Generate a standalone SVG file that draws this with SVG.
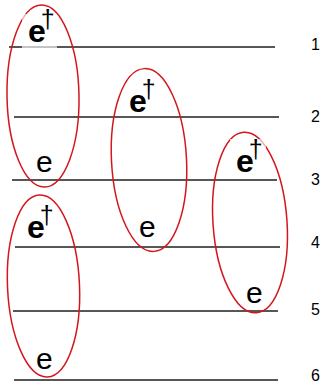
<svg xmlns="http://www.w3.org/2000/svg" width="320" height="383" viewBox="0 0 320 383">
<style>
.lvl{stroke:#575757;stroke-width:2;fill:none}
.loop{stroke:#d4161c;stroke-width:1.5;fill:none}
.eb{font-family:"Liberation Sans",Arial,sans-serif;font-weight:bold;font-size:32px;fill:#000}
.er{font-family:"Liberation Sans",Arial,sans-serif;font-size:30px;fill:#000}
.dg{font-family:"Liberation Sans",Arial,sans-serif;font-weight:normal;font-size:25px}
.num{font-family:"Liberation Sans",Arial,sans-serif;font-size:16px;fill:#000}
.veil{fill:#fff;fill-opacity:0.65}
</style>
<rect width="320" height="383" fill="#fff"/>
<g id="connectors">
<line class="lvl" x1="9" y1="47" x2="275" y2="47"/>
<line class="lvl" x1="14" y1="117" x2="279" y2="117"/>
<line class="lvl" x1="12" y1="180" x2="277" y2="180"/>
<line class="lvl" x1="15" y1="247" x2="280" y2="247"/>
<line class="lvl" x1="13" y1="311" x2="278" y2="311"/>
<line class="lvl" x1="14" y1="380" x2="278" y2="380"/>
</g>
<g id="loop1"><ellipse class="loop" cx="43" cy="96" rx="36" ry="91" transform="rotate(-1 43 96)"/></g>
<g id="loop2"><ellipse class="loop" cx="149" cy="160" rx="37.5" ry="91.5" transform="rotate(-3 149 160)"/></g>
<g id="loop3"><ellipse class="loop" cx="250" cy="222.5" rx="37" ry="90.5" transform="rotate(-4 250 222.5)"/></g>
<g id="loop4"><ellipse class="loop" cx="43.5" cy="286" rx="36" ry="91" transform="rotate(-2.5 43.5 286)"/></g>
<g id="label1"><rect class="veil" x="22" y="14" width="35" height="36"/><text class="eb" x="28" y="42">e<tspan class="dg" dx="-5" dy="-14">†</tspan></text></g>
<g id="label2"><text class="eb" x="129" y="112">e<tspan class="dg" dx="-5" dy="-14">†</tspan></text></g>
<g id="label3"><rect class="veil" x="230" y="139" width="36" height="34"/><text class="eb" x="236" y="172">e<tspan class="dg" dx="-5" dy="-14">†</tspan></text></g>
<g id="label4"><text class="eb" x="27" y="238">e<tspan class="dg" dx="-5" dy="-14">†</tspan></text></g>
<g id="label5"><text class="er" x="36" y="172">e</text></g>
<g id="label6"><text class="er" x="139" y="237">e</text></g>
<g id="label7"><text class="er" x="246" y="303">e</text></g>
<g id="label8"><text class="er" x="36" y="369">e</text></g>
<g id="numbers">
<text class="num" x="311" y="50">1</text>
<text class="num" x="311" y="122">2</text>
<text class="num" x="311" y="185">3</text>
<text class="num" x="311" y="248">4</text>
<text class="num" x="311" y="315">5</text>
<text class="num" x="311" y="381">6</text>
</g>
</svg>
